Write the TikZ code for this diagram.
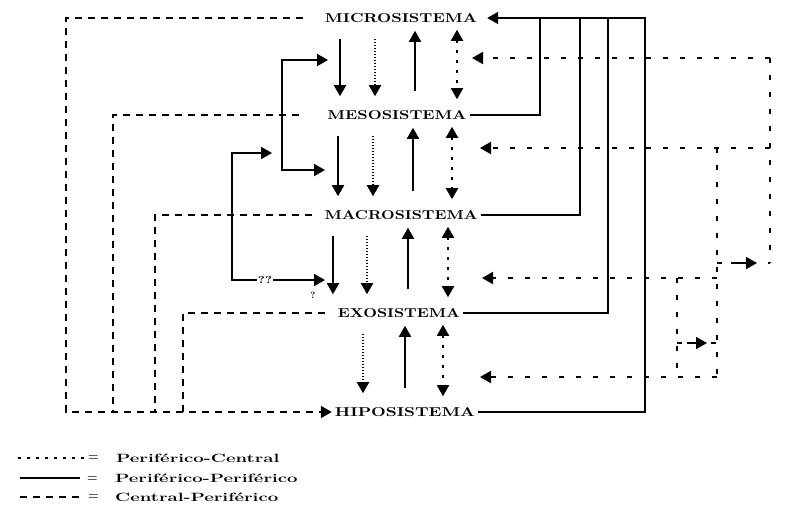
\documentclass[tikz,border=0pt]{standalone}
\usepackage{graphicx}
\usetikzlibrary{arrows.meta,calc}
\begin{document}
\begin{tikzpicture}[x=1pt,y=-1pt,
  >={Triangle[length=11pt,width=12pt]},
  lab/.style={inner sep=0pt},
  sol/.style={line width=1.8pt},
  dotl/.style={line width=2pt, dash pattern=on 1.3pt off 1.7pt},
  dshl/.style={line width=1.8pt, dash pattern=on 3pt off 7pt},
  lft/.style={line width=1.7pt, dash pattern=on 7pt off 6pt},
  rgt/.style={line width=1.9pt, dash pattern=on 5pt off 12pt},
  fbk/.style={line width=1.6pt},
  dn/.style={shorten <=16pt, shorten >=14pt},
  upa/.style={shorten <=19pt, shorten >=8pt},
  both/.style={shorten <=7pt, shorten >=11pt},
  leg/.style={inner sep=0pt, anchor=west, font=\fontsize{12}{14}\selectfont\bfseries}
]
\useasboundingbox (0,0) rectangle (790,504);

% system labels
\node[lab] (micro) at (401,18)  {\resizebox{152pt}{9pt}{\bfseries MICROSISTEMA}};
\node[lab] (meso)  at (397,115) {\resizebox{139pt}{9pt}{\bfseries MESOSISTEMA}};
\node[lab] (macro) at (401,215) {\resizebox{153pt}{9pt}{\bfseries MACROSISTEMA}};
\node[lab] (exo)   at (399,313) {\resizebox{122pt}{9pt}{\bfseries EXOSISTEMA}};
\node[lab] (hipo)  at (405,412) {\resizebox{140pt}{9pt}{\bfseries HIPOSISTEMA}};

% column coordinates
\coordinate (c11) at (340,0); \coordinate (c12) at (375,0); \coordinate (c13) at (415,0); \coordinate (c14) at (457,0);
\coordinate (c21) at (338,0); \coordinate (c22) at (373,0); \coordinate (c23) at (413,0); \coordinate (c24) at (452,0);
\coordinate (c31) at (333,0); \coordinate (c32) at (367,0); \coordinate (c33) at (408,0); \coordinate (c34) at (448,0);
\coordinate (c42) at (363,0); \coordinate (c43) at (405,0); \coordinate (c44) at (443,0);

% band micro - meso
\draw[sol,dn,->]   (micro.south -| c11) -- (meso.north -| c11);
\draw[dotl,dn,->]  (micro.south -| c12) -- (meso.north -| c12);
\draw[sol,upa,->]  (meso.north -| c13) -- (micro.south -| c13);
\draw[dshl,both,<->] (micro.south -| c14) -- (meso.north -| c14);
% band meso - macro
\draw[sol,dn,->]   (meso.south -| c21) -- (macro.north -| c21);
\draw[dotl,dn,->]  (meso.south -| c22) -- (macro.north -| c22);
\draw[sol,upa,->]  (macro.north -| c23) -- (meso.south -| c23);
\draw[dshl,both,<->] (meso.south -| c24) -- (macro.north -| c24);
% band macro - exo
\draw[sol,dn,->]   (macro.south -| c31) -- (exo.north -| c31);
\draw[dotl,dn,->]  (macro.south -| c32) -- (exo.north -| c32);
\draw[sol,upa,->]  (exo.north -| c33) -- (macro.south -| c33);
\draw[dshl,both,<->] (macro.south -| c34) -- (exo.north -| c34);
% band exo - hipo
\draw[dotl,dn,->]  (exo.south -| c42) -- (hipo.north -| c42);
\draw[sol,upa,->]  (hipo.north -| c43) -- (exo.south -| c43);
\draw[dshl,both,<->] (exo.south -| c44) -- (hipo.north -| c44);

% left dashed loops into HIPOSISTEMA
\coordinate (la) at (66,18);  \coordinate (lb) at (66,412);
\coordinate (ma) at (113,115); \coordinate (mb) at (113,412);
\coordinate (na) at (155,215); \coordinate (nb) at (155,412);
\coordinate (oa) at (183,313); \coordinate (ob) at (183,412);
\draw[lft,->] ([xshift=-22pt]micro.west) -- (la) -- (lb) -- ([xshift=-3pt]hipo.west);
\draw[lft] ([xshift=-28pt]meso.west) -- (ma) -- (mb);
\draw[lft] ([xshift=-12pt]macro.west) -- (na) -- (nb);
\draw[lft] ([xshift=-13pt]exo.west) -- (oa) -- (ob);

% right feedback lines into MICROSISTEMA
\coordinate (f1) at (540,18); \coordinate (f2) at (580,18); \coordinate (f3) at (608,18); \coordinate (f4) at (645,18);
\draw[fbk,<-] ([xshift=10pt]micro.east) -- (f4) -- (f4 |- hipo.east) -- ([xshift=3pt]hipo.east);
\draw[fbk] ([xshift=3pt]meso.east) -- (meso.east -| f1) -- (f1);
\draw[fbk] ([xshift=3pt]macro.east) -- (macro.east -| f2) -- (f2);
\draw[fbk] ([xshift=3pt]exo.east) -- (exo.east -| f3) -- (f3);

% right dashed arrows into the columns
\coordinate (r1) at (770,58);  \coordinate (h1) at (472,58);
\coordinate (r2) at (770,148); \coordinate (h2) at (480,148);
\coordinate (r3) at (717,278); \coordinate (h3) at (482,278);
\coordinate (r4) at (717,377); \coordinate (h4) at (480,377);
\coordinate (r5) at (770,263); \coordinate (r6) at (717,263);
\coordinate (r7) at (717,148); \coordinate (r8) at (677,278);
\coordinate (r9) at (677,377); \coordinate (r10) at (677,343); \coordinate (r11) at (717,343);
\draw[rgt,->] (r1) -- (h1);
\draw[rgt,->] (r2) -- (h2);
\draw[rgt,->] (r3) -- (h3);
\draw[rgt,->] (r4) -- (h4);
\draw[rgt] (r1) -- (r5);
\draw[rgt] (r7) -- (r4);
\draw[rgt] (r8) -- (r9);
\draw[rgt] (r6) -- (r5);
\draw[rgt] (r10) -- (r11);
\draw[sol,->] ($(r6)+(14,0)$) -- ($(r6)+(40,0)$);
\draw[sol,->] ($(r10)+(10,0)$) -- ($(r10)+(30,0)$);

% left solid brackets
\coordinate (b1) at (282,60); \coordinate (b2) at (282,170);
\coordinate (b3) at (232,153); \coordinate (b4) at (232,280);
\draw[sol,<->] (328,60) -- (b1) -- (b2) -- (325,170);
\draw[sol,<->] (272,153) -- (b3) -- (b4) -- (325,280);
\node[fill=white, inner sep=1pt, font=\bfseries\normalsize] (qq) at (265,280) {\scalebox{1.3}[1]{??}};
\node[inner sep=0pt, font=\bfseries\small] (q) at (313,295) {?};

% legend
\coordinate (s1) at (18,458); \coordinate (e1) at (84,458);
\coordinate (s2) at (20,478); \coordinate (e2) at (80,478);
\coordinate (s3) at (20,497); \coordinate (e3) at (80,497);
\draw[line width=1.7pt, dash pattern=on 3pt off 6pt] (s1) -- (e1);
\draw[line width=1.7pt] (s2) -- (e2);
\draw[line width=1.7pt, dash pattern=on 7pt off 6pt] (s3) -- (e3);
\node[leg] (q1) at (88,458) {=};
\node[leg] (q2) at (87,479) {=};
\node[leg] (q3) at (88,497) {=};
\node[leg] (t1) at (116,458) {\scalebox{1.55}[1]{Periférico-Central}};
\node[leg] (t2) at (115,478) {\scalebox{1.55}[1]{Periférico-Periférico}};
\node[leg] (t3) at (115,497) {\scalebox{1.55}[1]{Central-Periférico}};
\end{tikzpicture}
\end{document}
